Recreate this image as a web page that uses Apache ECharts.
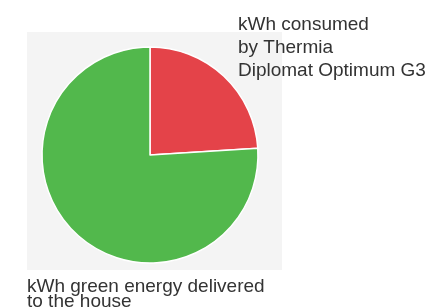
<!DOCTYPE html>
<html>
<head>
    <meta charset="utf-8">
    <title>pie</title>
    <script src="https://cdn.jsdelivr.net/npm/echarts@6/dist/echarts.min.js"></script>
    <style>
        body { margin: 0; background: #fff; }
    </style>
</head>
<body>
    <div id="main" style="width: 434px;height:307px;"></div>
    <script type="text/javascript">
        // slices (red ~ 24%)
        var labels = ['kWh consumed\nby Thermia\nDiplomat Optimum G3', 'kWh green energy delivered\nto the house'];
        var values = [24, 76];
        var colors = ['#e44349', '#52b84c'];

        var data = [];
        for (var i = 0; i < values.length; i++) {
            data.push({ name: labels[i], value: values[i], itemStyle: { color: colors[i] } });
        }

        var myChart = echarts.init(document.getElementById('main'));
        var option = {
            animation: false,
            graphic: [
                {
                    type: 'rect', z: -10,
                    shape: { x: 27, y: 32, width: 255, height: 238 },
                    style: { fill: '#f4f4f4' }
                },
                {
                    type: 'text', left: 238, top: 13,
                    style: {
                        text: labels[0], fill: '#333', lineHeight: 23,
                        font: '19px "Liberation Sans"'
                    }
                },
                {
                    type: 'text', left: 27, top: 277,
                    style: {
                        text: labels[1], fill: '#333', lineHeight: 15,
                        font: '19px "Liberation Sans"'
                    }
                }
            ],
            series: [{
                type: 'pie',
                center: [150, 155],
                radius: 108,
                startAngle: 90,
                clockwise: true,
                label: { show: false },
                labelLine: { show: false },
                itemStyle: { borderColor: '#fff', borderWidth: 1.5 },
                emphasis: { disabled: true },
                data: data
            }]
        };
        myChart.setOption(option);
    </script>
</body>
</html>
